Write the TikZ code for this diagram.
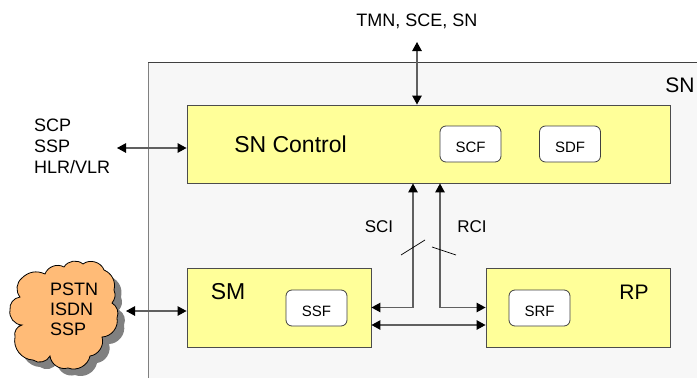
\documentclass[tikz,border=0pt]{standalone}
\usepackage{fontspec}
\setmainfont{Liberation Sans}
\usetikzlibrary{arrows, arrows.meta}
\definecolor{snback}{HTML}{F7F7F7}
\definecolor{blockyellow}{HTML}{FFFF99}
\definecolor{cloudorange}{HTML}{FFBB77}
\definecolor{linkgray}{HTML}{606060}
\tikzset{
  block/.style={draw=black!70, fill=blockyellow, line width=0.9pt, minimum height=78pt, inner sep=0pt},
  func/.style={draw=black!75, fill=white, rounded corners=6pt, line width=0.8pt,
    minimum width=61pt, minimum height=36pt, inner sep=0pt,
    font=\fontsize{15}{15}\selectfont, text height=16pt, text depth=0pt},
  lab/.style={font=\fontsize{18}{21}\selectfont, inner sep=0pt},
  big/.style={font=\fontsize{21}{24}\selectfont, inner sep=0pt},
  link/.style={draw=linkgray, line width=1.2pt, {Triangle[length=9pt,width=9.5pt,color=black]}-{Triangle[length=9pt,width=9.5pt,color=black]}},
  uplink/.style={link},
  tick/.style={draw=black, line width=0.7pt}
}
\newcommand{\cloudpath}{(45,274) to[bend left=50] (64,267) to[bend left=50] (83,264)
  to[bend left=55] (104,270) to[bend left=40] (114,290) to[bend left=30] (112,303)
  to[bend left=40] (117,318) to[bend left=50] (102,337) to[bend left=50] (90,356)
  to[bend left=50] (68,368) to[bend left=50] (50,356) to[bend left=50] (33,360)
  to[bend left=50] (15,337) to[bend left=45] (22,325) to[bend left=50] (10,310)
  to[bend left=45] (20,297) to[bend left=45] (22,278) to[bend left=35] (45,274) -- cycle}
\begin{document}
\begin{tikzpicture}[x=1pt,y=-1pt]
\useasboundingbox (0,0) rectangle (697,378);

% network box
\fill[snback] (148,378) |- (697,62) |- cycle;
\draw[black!50, line width=1pt] (148,378) -- (148,62);
\draw[black!75, line width=0.9pt] (148,62) -- (697,62);
\node[big] (snname) at (680,85) {SN};

% blocks
\node[block, minimum width=483pt] (ctrl) at (428.5,144) {};
\node[block, minimum width=184pt, minimum height=79pt] (sm) at (279,307.5) {};
\node[block, minimum width=184pt, minimum height=79pt] (rp) at (578,307.5) {};
\node[big, font=\fontsize{23}{24}\selectfont] (ctrlname) at (290.5,144) {SN Control};
\node[big, font=\fontsize{23}{24}\selectfont] (smname) at (228,292) {SM};
\node[big] (rpname) at (634,292) {RP};

% functions
\foreach \n/\x/\y/\t in {scf/470.5/144/SCF, sdf/570/144/SDF, ssf/316.5/308/SSF, srf/539.5/308/SRF}
  \node[func] (\n) at (\x,\y) {\t};

% cloud
\fill[black!50] [shift={(7,7)}] \cloudpath;
\draw[black, fill=cloudorange, line width=0.8pt] \cloudpath;
\node[lab, align=left, anchor=north west, font=\fontsize{18}{20}\selectfont] (pstn) at (50,283) {PSTN\\ISDN\\SSP};

% outside labels
\node[lab, align=left, anchor=north west] (scp) at (34,119) {SCP\\SSP\\HLR/VLR};
\node[lab] (tmn) at (417,21.5) {TMN, SCE, SN};
\node[lab, font=\fontsize{17}{20}\selectfont] (sci) at (379,227) {SCI};
\node[lab, font=\fontsize{17}{20}\selectfont] (rci) at (472,227) {RCI};

% connectors
\coordinate (tmntip) at (417,42);
\coordinate (scptip) at (117,148);
\coordinate (cloudtip) at (126,311);
\draw[link] (tmntip) -- (tmntip |- ctrl.north);
\draw[link] (scptip) -- (scptip -| ctrl.west);
\draw[link] (cloudtip) -- (cloudtip -| sm.west);
\draw[uplink] (sm.east) -| ([xshift=-15.5pt]ctrl.south);
\draw[uplink] (rp.west) -| ([xshift=11.5pt]ctrl.south);
\draw[link] ([yshift=-17.5pt]sm.east) -- ([yshift=-17.5pt]rp.west);

% ticks
\draw[tick] (401,255) -- (425,240);
\draw[tick] (432,247) -- (456,255);

\end{tikzpicture}
\end{document}
